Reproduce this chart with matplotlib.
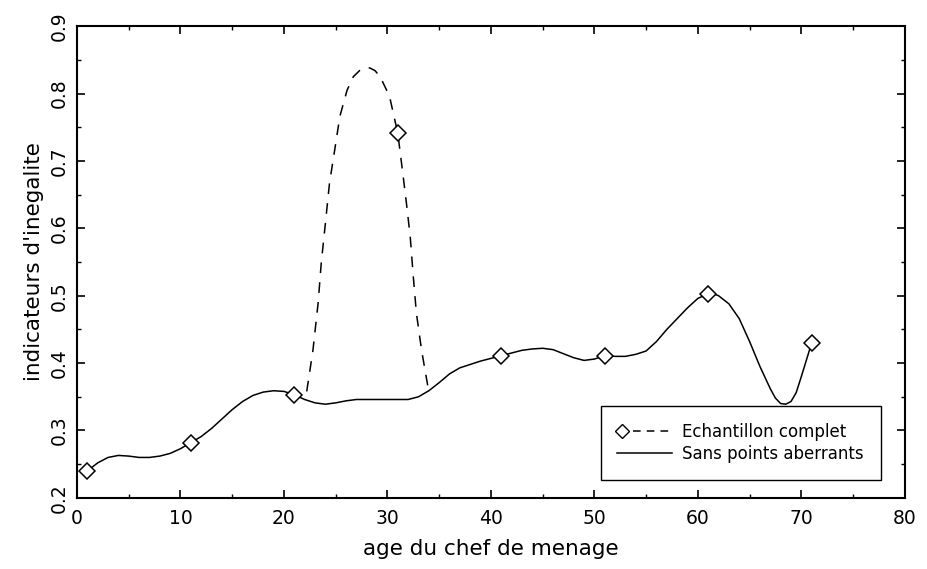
import matplotlib
matplotlib.use("Agg")
import matplotlib.pyplot as plt
from matplotlib.lines import Line2D
from matplotlib.legend_handler import HandlerBase
from matplotlib.ticker import MultipleLocator

# Marker points (Echantillon complet)
age_points = [1, 11, 21, 31, 41, 51, 61, 71]
ineq_points = [0.240, 0.282, 0.353, 0.741, 0.411, 0.411, 0.502, 0.430]

# Solid curve (Sans points aberrants)
solid_age = [1, 2, 3, 4, 5, 6, 7, 8, 9, 10, 11, 12, 13, 14, 15, 16, 17, 18, 19, 20,
             21, 22, 23, 24, 25, 26, 27, 28, 29, 30, 31, 32, 33, 34, 35, 36, 37, 38,
             39, 40, 41, 42, 43, 44, 45, 46, 47, 48, 49, 50, 51, 52, 53, 54, 55, 56,
             57, 58, 59, 60, 61, 61.5, 62, 63, 64, 65, 66, 67, 67.5, 68, 68.5, 69,
             69.5, 70, 70.5, 71]
solid_val = [0.240, 0.252, 0.260, 0.263, 0.262, 0.260, 0.260, 0.262, 0.266, 0.273,
             0.282, 0.291, 0.303, 0.317, 0.331, 0.343, 0.352, 0.357, 0.359, 0.358,
             0.353, 0.346, 0.341, 0.339, 0.341, 0.344, 0.346, 0.346, 0.346, 0.346,
             0.346, 0.346, 0.350, 0.359, 0.371, 0.384, 0.393, 0.398, 0.403, 0.407,
             0.411, 0.415, 0.419, 0.421, 0.422, 0.420, 0.414, 0.408, 0.404, 0.406,
             0.411, 0.410, 0.410, 0.413, 0.418, 0.432, 0.450, 0.466, 0.482, 0.496,
             0.503, 0.503, 0.500, 0.488, 0.466, 0.432, 0.395, 0.362, 0.348, 0.340,
             0.339, 0.343, 0.356, 0.380, 0.405, 0.430]

# Dashed curve (Echantillon complet) where it departs from the solid one
dash_age = [22.2, 22.8, 23.3, 23.6, 24.0, 24.4, 24.9, 25.4, 26.1, 26.7, 27.3, 27.8,
            28.3, 28.8, 29.3, 30.2, 31.0, 31.4, 31.8, 32.2, 32.5, 32.8, 33.3, 33.9]
dash_val = [0.358, 0.419, 0.489, 0.548, 0.607, 0.667, 0.716, 0.766, 0.805, 0.825,
            0.834, 0.838, 0.838, 0.834, 0.825, 0.796, 0.741, 0.692, 0.642, 0.588,
            0.528, 0.474, 0.419, 0.366]

xticks = [0, 10, 20, 30, 40, 50, 60, 70, 80]
yticks = [0.2, 0.3, 0.4, 0.5, 0.6, 0.7, 0.8, 0.9]

plt.rcParams['font.family'] = ['DejaVu Sans']


class MarkerDashHandler(HandlerBase):
    """Diamond at the left, dashed line to its right."""
    def create_artists(self, legend, orig_handle, xdescent, ydescent,
                       width, height, fontsize, trans):
        y = height / 2.0 - ydescent
        x0 = -xdescent
        mk = Line2D([x0 + 0.09 * width], [y], linestyle='none', marker='D',
                    markersize=7, markerfacecolor='white',
                    markeredgecolor='black', markeredgewidth=1.0, transform=trans)
        ln = Line2D([x0 + 0.28 * width, x0 + width], [y, y], color='black',
                    lw=1.1, linestyle=(0, (5, 4)), transform=trans)
        return [ln, mk]


fig = plt.figure(figsize=(9.28, 5.69), dpi=100)
ax = fig.add_axes([0.083, 0.125, 0.892, 0.829])

ax.plot(solid_age, solid_val, color='black', lw=1.1, solid_joinstyle='round')
ax.plot(dash_age, dash_val, color='black', lw=1.1, linestyle=(0, (7, 6)))
ax.plot(age_points, ineq_points, linestyle='none', marker='D', markersize=8.5,
        markerfacecolor='white', markeredgecolor='black', markeredgewidth=1.1,
        zorder=5)

ax.set_xlim(0, 80)
ax.set_ylim(0.2, 0.9)
ax.set_xticks(xticks)
ax.set_yticks(yticks)
ax.set_xticklabels([str(t) for t in xticks])
ax.set_yticklabels([f"{t:.1f}" for t in yticks], rotation=90, va='center')
ax.xaxis.set_minor_locator(MultipleLocator(5))
ax.yaxis.set_minor_locator(MultipleLocator(0.05))
ax.tick_params(which='both', direction='in', top=True, right=True, color='black')
ax.tick_params(which='major', length=6, width=1.2, labelsize=13.5)
ax.tick_params(axis='x', which='major', pad=8)
ax.tick_params(axis='y', which='major', pad=6)
ax.tick_params(which='minor', length=3, width=1.0)
for s in ax.spines.values():
    s.set_linewidth(1.5)

ax.set_xlabel("age du chef de menage", fontsize=15.5, labelpad=8)
ax.set_ylabel("indicateurs d'inegalite", fontsize=15.5, labelpad=4)

h1 = Line2D([], [], color='black', lw=1.1, linestyle='--', marker='D')
h2 = Line2D([], [], color='black', lw=1.1)
leg = ax.legend([h1, h2], ["Echantillon complet", "Sans points aberrants"],
                handler_map={h1: MarkerDashHandler()},
                loc='lower left', bbox_to_anchor=(0.6325, 0.0381, 0.3393, 0.148),
                mode='expand', borderaxespad=0, fancybox=False, framealpha=1,
                edgecolor='black', fontsize=12, handlelength=3.3,
                handletextpad=0.6, borderpad=1.0, labelspacing=0.25)
leg.get_frame().set_linewidth(1.0)

fig.savefig("out.png", dpi=100)
